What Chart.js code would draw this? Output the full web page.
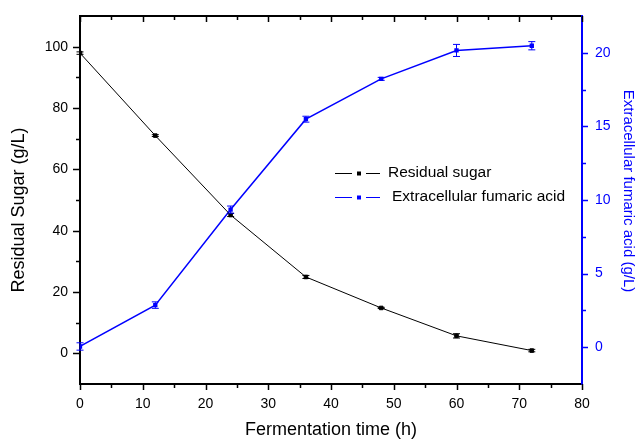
<!DOCTYPE html>
<html lang="en">
<head>
    <meta charset="UTF-8">
    <title>Residual sugar and extracellular fumaric acid</title>
    <script src="https://cdn.jsdelivr.net/npm/chart.js"></script>
    <style>
        body {
            margin: 0;
            background: #fff;
        }
        #chart {
            display: block;
        }
    </style>
</head>
<body>
    <canvas id="chart" width="638" height="441"></canvas>

    <script>
        // Dati
        const hours = [0, 12, 24, 36, 48, 60, 72];
        const residualSugar = [97.9, 71.0, 45.1, 24.9, 14.8, 5.7, 0.9];
        const sugarError = [0.4, 0.3, 0.5, 0.5, 0.2, 0.7, 0.4];
        const fumaricAcid = [0.05, 2.86, 9.35, 15.49, 18.23, 20.16, 20.48];
        const acidError = [0.25, 0.22, 0.24, 0.2, 0.1, 0.41, 0.28];

        // Tacche degli assi
        const xTicks = [0, 10, 20, 30, 40, 50, 60, 70, 80];
        const xMinorTicks = [5, 15, 25, 35, 45, 55, 65, 75];
        const sugarTicks = [0, 20, 40, 60, 80, 100];
        const sugarMinorTicks = [10, 30, 50, 70, 90];
        const acidTicks = [0, 5, 10, 15, 20];
        const acidMinorTicks = [2.5, 7.5, 12.5, 17.5];

        const seriesNames = ['Residual sugar', 'Extracellular fumaric acid'];
        const FONT = 'Arial, "Liberation Sans", sans-serif';
        const BLUE = '#0000ff';

        function toPoints(values) {
            return hours.map((h, i) => ({ x: h, y: values[i] }));
        }

        function fixTicks(values) {
            return scale => { scale.ticks = values.map(v => ({ value: v })); };
        }

        // dimensione fissa della scala, senza margini extra per le etichette
        function fixSize(prop, size) {
            return scale => {
                scale[prop] = size;
                scale.paddingTop = 0;
                scale.paddingBottom = 0;
                scale.paddingLeft = 0;
                scale.paddingRight = 0;
            };
        }

        // Barre di errore disegnate con le scale del grafico
        const errorBars = {
            id: 'errorBars',
            afterDatasetsDraw(chart) {
                const ctx = chart.ctx;
                chart.data.datasets.forEach((ds, di) => {
                    const meta = chart.getDatasetMeta(di);
                    const yScale = chart.scales[ds.yAxisID];
                    ctx.save();
                    ctx.strokeStyle = ds.borderColor;
                    ctx.lineWidth = 1;
                    meta.data.forEach((pt, i) => {
                        const v = ds.data[i].y;
                        const e = ds.errors[i];
                        const yTop = yScale.getPixelForValue(v + e);
                        const yBot = yScale.getPixelForValue(v - e);
                        ctx.beginPath();
                        ctx.moveTo(pt.x, yTop);
                        ctx.lineTo(pt.x, yBot);
                        ctx.moveTo(pt.x - 3.5, yTop);
                        ctx.lineTo(pt.x + 3.5, yTop);
                        ctx.moveTo(pt.x - 3.5, yBot);
                        ctx.lineTo(pt.x + 3.5, yBot);
                        ctx.stroke();
                    });
                    ctx.restore();
                });
            }
        };

        // Tacche maggiori e minori, titoli verticali e legenda
        const decorations = {
            id: 'decorations',
            afterDraw(chart) {
                const ctx = chart.ctx;
                const area = chart.chartArea;
                const x = chart.scales.x;
                const yL = chart.scales.y;
                const yR = chart.scales.y2;
                ctx.save();
                ctx.lineWidth = 1.5;

                ctx.strokeStyle = '#000';
                ctx.beginPath();
                [[xTicks, 6], [xMinorTicks, 4]].forEach(([list, len]) => {
                    list.forEach(v => {
                        const px = Math.round(x.getPixelForValue(v)) + 0.5;
                        ctx.moveTo(px, area.bottom);
                        ctx.lineTo(px, area.bottom + len);
                        ctx.moveTo(px, area.top);
                        ctx.lineTo(px, area.top + len);
                    });
                });
                [[sugarTicks, 7], [sugarMinorTicks, 4]].forEach(([list, len]) => {
                    list.forEach(v => {
                        const py = Math.round(yL.getPixelForValue(v)) + 0.5;
                        ctx.moveTo(area.left, py);
                        ctx.lineTo(area.left - len, py);
                    });
                });
                ctx.stroke();

                ctx.strokeStyle = BLUE;
                ctx.beginPath();
                [[acidTicks, 6], [acidMinorTicks, 4]].forEach(([list, len]) => {
                    list.forEach(v => {
                        const py = Math.round(yR.getPixelForValue(v)) + 0.5;
                        ctx.moveTo(area.right, py);
                        ctx.lineTo(area.right + len, py);
                    });
                });
                ctx.stroke();

                // Titoli degli assi verticali
                ctx.textAlign = 'center';
                ctx.textBaseline = 'middle';
                ctx.fillStyle = '#000';
                ctx.font = '18px ' + FONT;
                ctx.save();
                ctx.translate(19, 210);
                ctx.rotate(-Math.PI / 2);
                ctx.fillText('Residual Sugar (g/L)', 0, 0);
                ctx.restore();

                ctx.fillStyle = BLUE;
                ctx.font = '15px ' + FONT;
                ctx.save();
                ctx.translate(628, 191);
                ctx.rotate(Math.PI / 2);
                ctx.fillText('Extracellular fumaric acid (g/L)', 0, 0);
                ctx.restore();

                // Legenda
                ctx.font = '15.5px ' + FONT;
                ctx.textAlign = 'left';
                ctx.lineWidth = 1;
                const rows = [[173, '#000', 388], [197, BLUE, 392]];
                rows.forEach(([ly, col, tx], i) => {
                    ctx.strokeStyle = col;
                    ctx.fillStyle = col;
                    ctx.beginPath();
                    ctx.moveTo(335, ly + 0.5);
                    ctx.lineTo(352, ly + 0.5);
                    ctx.moveTo(366, ly + 0.5);
                    ctx.lineTo(380, ly + 0.5);
                    ctx.stroke();
                    ctx.fillRect(357, ly - 1.5, 4, 4);
                    ctx.fillStyle = '#000';
                    ctx.fillText(seriesNames[i], tx, ly);
                });
                ctx.restore();
            }
        };

        const ctx = document.getElementById('chart').getContext('2d');
        new Chart(ctx, {
            type: 'line',
            data: {
                datasets: [
                    {
                        label: seriesNames[0],
                        data: toPoints(residualSugar),
                        errors: sugarError,
                        yAxisID: 'y',
                        borderColor: '#000',
                        backgroundColor: '#000',
                        borderWidth: 1,
                        pointStyle: 'rect',
                        pointRadius: 2.5,
                        tension: 0
                    },
                    {
                        label: seriesNames[1],
                        data: toPoints(fumaricAcid),
                        errors: acidError,
                        yAxisID: 'y2',
                        borderColor: BLUE,
                        backgroundColor: BLUE,
                        borderWidth: 1.5,
                        pointStyle: 'rect',
                        pointRadius: 2,
                        tension: 0
                    }
                ]
            },
            options: {
                responsive: false,
                animation: false,
                devicePixelRatio: 1,
                layout: { padding: 0 },
                plugins: {
                    legend: { display: false },
                    tooltip: { enabled: false }
                },
                scales: {
                    x: {
                        type: 'linear',
                        position: 'bottom',
                        min: 0,
                        max: 80,
                        afterBuildTicks: fixTicks(xTicks),
                        afterFit: fixSize('height', 57),
                        grid: { display: false, drawTicks: false },
                        border: { display: true, color: '#000', width: 2 },
                        ticks: {
                            padding: 12,
                            color: '#000',
                            font: { family: FONT, size: 14 }
                        },
                        title: {
                            display: true,
                            text: 'Fermentation time (h)',
                            color: '#000',
                            font: { family: FONT, size: 18 },
                            padding: 0
                        }
                    },
                    xTop: {
                        type: 'linear',
                        position: 'top',
                        min: 0,
                        max: 80,
                        afterFit: fixSize('height', 16),
                        grid: { display: false, drawTicks: false },
                        border: { display: true, color: '#000', width: 2 },
                        ticks: { display: false }
                    },
                    y: {
                        type: 'linear',
                        position: 'left',
                        min: -10,
                        max: 110,
                        afterBuildTicks: fixTicks(sugarTicks),
                        afterFit: fixSize('width', 80),
                        grid: { display: false, drawTicks: false },
                        border: { display: true, color: '#000', width: 2 },
                        ticks: {
                            padding: 12,
                            color: '#000',
                            font: { family: FONT, size: 14 }
                        }
                    },
                    y2: {
                        type: 'linear',
                        position: 'right',
                        min: -2.5,
                        max: 22.5,
                        afterBuildTicks: fixTicks(acidTicks),
                        afterFit: fixSize('width', 56),
                        grid: { display: false, drawTicks: false },
                        border: { display: true, color: BLUE, width: 2 },
                        ticks: {
                            padding: 13,
                            color: BLUE,
                            font: { family: FONT, size: 14 }
                        }
                    }
                }
            },
            plugins: [errorBars, decorations]
        });
    </script>
</body>
</html>
